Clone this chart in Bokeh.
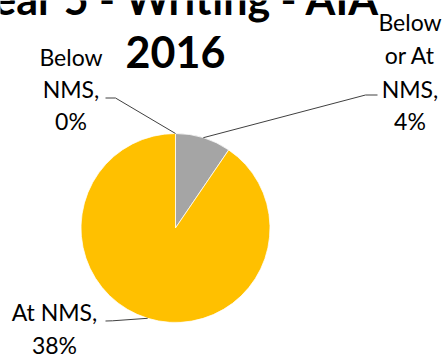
import math
from bokeh.plotting import figure
from bokeh.models import Range1d
from bokeh.embed import file_html
from bokeh.resources import INLINE
from bokeh.core.properties import value

# ---- data ----
title_lines = ["Year 5 - Writing - AIA", "2016"]
categories = ["Below NMS", "Below or At NMS", "At NMS"]
values = [0, 4, 38]
label_lines = [["Below", "NMS,", "0%"], ["Below", "or At", "NMS,", "4%"], ["At NMS,", "38%"]]
colors = ["#4472C4", "#A5A5A5", "#FFC000"]

# ---- layout (pixel coordinates, y from top) ----
W, H = 446, 356
CX, CY, R = 175, 227.5, 94.5
FONT = "Lato"
LBL_SIZE, TTL_SIZE = 23, 43
LBL_SHIFT, TTL_SHIFT = 9, 16

def Y(py):
    return H - py

p = figure(width=W, height=H, output_backend="svg", toolbar_location=None,
           x_range=Range1d(0, W), y_range=Range1d(0, H), min_border=0)
p.axis.visible = False
p.grid.visible = False
p.outline_line_color = None
p.background_fill_color = "white"
p.border_fill_color = "white"

# pie slices
total = sum(values)
acc = 0
mids = []
for v, c in zip(values, colors):
    a0 = math.pi / 2 - 2 * math.pi * acc / total
    acc += v
    a1 = math.pi / 2 - 2 * math.pi * acc / total
    mids.append((a0 + a1) / 2)
    if v > 0:
        p.wedge(x=CX, y=Y(CY), radius=R, start_angle=a0, end_angle=a1,
                direction="clock", fill_color=c, line_color="white", line_width=0.75)

def edge(a):
    return CX + R * math.cos(a), Y(CY) + R * math.sin(a)

# leader lines: label anchor -> elbow -> slice edge
anchors = [((105, 97.5), (115, 97.5)), ((377, 94.5), (365, 94.5)), ((105, 320.5), (112, 320.3))]
for (p0, p1), a in zip(anchors, mids):
    ex, ey = edge(a)
    p.line([p0[0], p1[0], ex], [Y(p0[1]), Y(p1[1]), ey], line_color="#404040", line_width=1)

# data labels
label_pos = [(70.5, [65, 97, 129.5]), (409.5, [30, 63, 97, 129.5]), (54, [320.5, 353])]
for lines, (lx, ys) in zip(label_lines, label_pos):
    p.text(x=[lx] * len(lines), y=[Y(v - LBL_SHIFT) for v in ys], text=lines,
           text_font=value(FONT), text_font_size=f"{LBL_SIZE}px", text_color="black",
           text_align="center", text_baseline="alphabetic")

# title
p.text(x=[175, 175], y=[Y(14 - TTL_SHIFT), Y(67 - TTL_SHIFT)], text=title_lines,
       text_font=value(FONT), text_font_style="bold", text_font_size=f"{TTL_SIZE}px",
       text_color="black", text_align="center", text_baseline="alphabetic")

open("out.html", "w").write(file_html(p, INLINE))
